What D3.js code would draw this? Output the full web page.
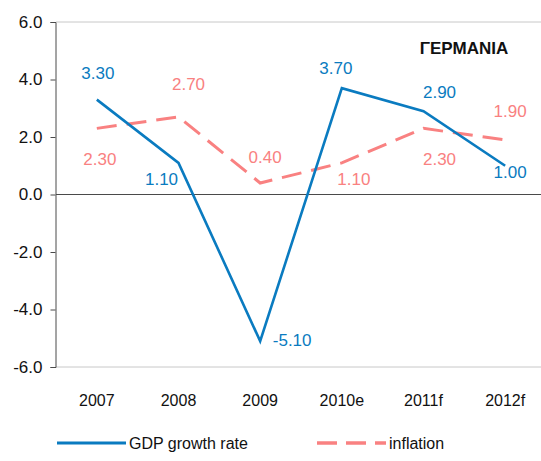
<!DOCTYPE html>
<html>
<head>
<meta charset="utf-8">
<script src="https://cdn.jsdelivr.net/npm/d3@7"></script>
<style>
  body { margin: 0; background: #fff; }
  svg { display: block; font-family: "Liberation Sans", Arial, sans-serif; }
</style>
</head>
<body>
<div id="chart"></div>
<script>
// data
const years = ["2007", "2008", "2009", "2010e", "2011f", "2012f"];
const gdp = [3.3, 1.1, -5.1, 3.7, 2.9, 1.0];
const inflation = [2.3, 2.7, 0.4, 1.1, 2.3, 1.9];
const yTicks = [-6, -4, -2, 0, 2, 4, 6];
const title = "ΓΕΡΜΑΝΙΑ";
const seriesNames = ["GDP growth rate", "inflation"];

// label placement (offsets from the point, px)
const gdpLabelPos = [[1, -26], [-17, 17], [32, -1], [-6, -20], [16, -19], [5, 7]];
const infLabelPos = [[3, 31], [10, -32], [5, -26], [12, 17], [16, 31], [5, -28]];

const W = 541, H = 461;
const blue = "#0a7bc0", pink = "#f98181";

// plain hyphen instead of unicode minus
const fmt = f => (d => d3.format(f)(d).replace("\u2212", "-"));

const svg = d3.select("#chart").append("svg")
  .attr("width", W).attr("height", H);

const x = d3.scalePoint().domain(years).range([56, 546]).padding(0.5);
const y = d3.scaleLinear().domain([-6, 6]).range([367, 22]);

// frame lines
svg.append("line").attr("x1", 56).attr("x2", W).attr("y1", y(6)).attr("y2", y(6))
  .attr("stroke", "#c8c8c8").attr("stroke-width", 1);
svg.append("line").attr("x1", 56).attr("x2", W).attr("y1", y(-6)).attr("y2", y(-6))
  .attr("stroke", "#c8c8c8").attr("stroke-width", 1);
svg.append("line").attr("x1", 56).attr("x2", W).attr("y1", y(0)).attr("y2", y(0))
  .attr("stroke", "#4a4a4a").attr("stroke-width", 1);

// y axis
const yAxis = svg.append("g").attr("transform", "translate(55.5,0)")
  .call(d3.axisLeft(y).tickValues(yTicks).tickFormat(fmt(".1f")).tickSize(5).tickPadding(8));
yAxis.select(".domain").attr("stroke", "#4a4a4a");
yAxis.selectAll(".tick line").attr("stroke", "#4a4a4a");
yAxis.selectAll("text").attr("font-size", 17).attr("fill", "#111")
  .attr("font-family", "Liberation Sans, Arial, sans-serif");

// x labels
svg.selectAll(".xlab").data(years).enter().append("text")
  .attr("class", "xlab")
  .attr("x", d => x(d)).attr("y", 400)
  .attr("text-anchor", "middle").attr("dominant-baseline", "central")
  .attr("font-size", 16).attr("fill", "#111")
  .text(d => d);

// lines
const line = d3.line().x((d, i) => x(years[i])).y(d => y(d));
svg.append("path").datum(inflation).attr("d", line)
  .attr("fill", "none").attr("stroke", pink).attr("stroke-width", 3)
  .attr("stroke-dasharray", "20,10");
svg.append("path").datum(gdp).attr("d", line)
  .attr("fill", "none").attr("stroke", blue).attr("stroke-width", 2.6)
  .attr("stroke-linejoin", "miter");

// data labels
function labels(vals, pos, color) {
  svg.append("g").selectAll("text").data(vals).enter().append("text")
    .attr("x", (d, i) => x(years[i]) + pos[i][0])
    .attr("y", (d, i) => y(d) + pos[i][1])
    .attr("text-anchor", "middle").attr("dominant-baseline", "central")
    .attr("font-size", 17).attr("fill", color)
    .text(fmt(".2f"));
}
labels(inflation, infLabelPos, pink);
labels(gdp, gdpLabelPos, blue);

// title
svg.append("text").attr("x", 464).attr("y", 48)
  .attr("text-anchor", "middle").attr("dominant-baseline", "central")
  .attr("font-size", 17).attr("font-weight", "bold").attr("fill", "#111")
  .text(title);

// legend
const leg = svg.append("g");
leg.append("line").attr("x1", 57).attr("x2", 126).attr("y1", 443).attr("y2", 443)
  .attr("stroke", blue).attr("stroke-width", 3);
leg.append("text").attr("x", 129).attr("y", 443).attr("dominant-baseline", "central")
  .attr("font-size", 16).attr("fill", "#111").text(seriesNames[0]);
leg.append("line").attr("x1", 317).attr("x2", 386).attr("y1", 443).attr("y2", 443)
  .attr("stroke", pink).attr("stroke-width", 3.5).attr("stroke-dasharray", "20,9");
leg.append("text").attr("x", 389).attr("y", 443).attr("dominant-baseline", "central")
  .attr("font-size", 16).attr("fill", "#111").text(seriesNames[1]);
</script>
</body>
</html>
